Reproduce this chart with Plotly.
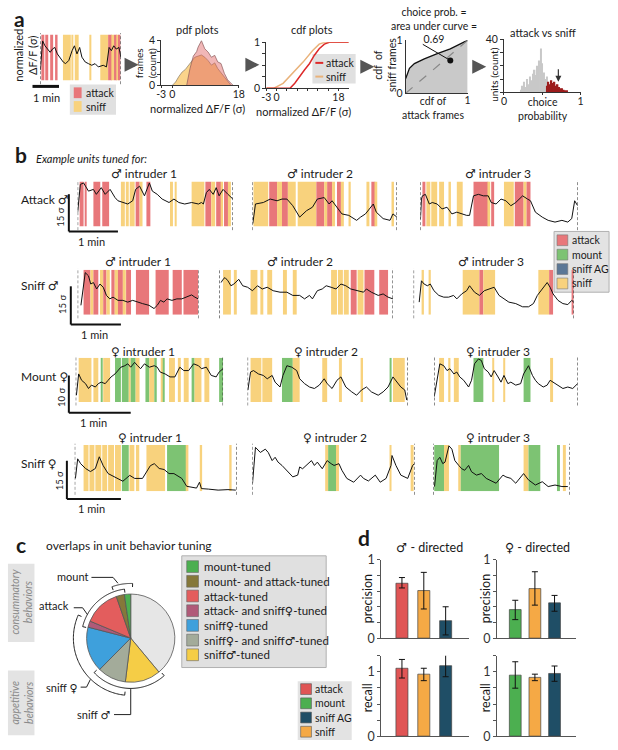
import numpy as np
import plotly.graph_objects as go

W, H = 618, 750
FONT = "Lato, 'DejaVu Sans', sans-serif"

# ======================= DATA =======================
# --- panel a: example trace (time in 1.2 s bins, value in sigma) ---
EX_T = [0, 2.3, 4.7, 7.3, 10, 12.3, 14.7, 17.3, 20, 23.3, 25.7, 29, 32.3, 34.7, 37.3, 40, 42.3, 45.7,
        49, 52.3, 55.7, 59, 64, 67.3, 70, 72.3, 74.7, 77.3, 80, 82]
EX_Y = [3.2, 12.2, 10.7, 9.7, 8.7, 9.7, 10.2, 8.2, 7.2, 5.7, 5.2, 6.2, 9.2, 10.7, 8.2, 10.2, 7.2, 5.7,
        5.2, 4.7, 5.2, 4.2, 4.7, 4.2, 10.2, 9.2, 10.7, 9.7, 10.2, 7.2]
EX_BANDS = [(1, 4, 'a'), (5, 8, 'a'), (10, 13, 'a'), (15, 17.5, 'a'), (23, 31, 's'), (32, 33.5, 's'),
            (35, 39, 's'), (50, 51.5, 's'), (61, 69, 's'), (69, 73, 'a'), (73, 75, 's'), (75, 78, 'a'),
            (78, 79, 's'), (79, 81.5, 'a')]

# pdf (frames count) vs normalized dF/F
PDF_SNIFF_X = [0.0, 0.9, 1.8, 2.7, 3.5, 4.4, 5.2, 6.1, 7.0, 7.9, 8.8, 9.7, 10.6, 11.5, 12.3, 13.2, 14.1, 15.0, 15.9]
PDF_SNIFF_Y = [0.0, 0.3, 0.8, 1.2, 1.4, 1.8, 2.2, 2.5, 2.6, 2.7, 2.5, 2.2, 1.8, 2.0, 1.5, 1.1, 0.8, 0.3, 0.0]
PDF_ATT_X = [3.9, 4.8, 5.7, 6.6, 7.0, 7.9, 8.8, 9.7, 10.6, 11.5, 12.3, 13.2, 14.1, 15.0, 16.3, 16.5]
PDF_ATT_Y = [0.0, 1.5, 2.6, 3.0, 3.4, 3.97, 3.25, 2.96, 2.5, 2.67, 2.09, 1.94, 1.07, 0.49, 0.06, 0.0]

# cdf curves
CDF_SNIFF_X = [-3, -0.9, 1.9, 4.8, 7.7, 10.5, 12.4, 13.9, 21]
CDF_SNIFF_Y = [0, 0, 0.11, 0.33, 0.57, 0.82, 0.96, 1.0, 1.0]
CDF_ATT_X = [-3, 3.9, 5.3, 6.7, 8.1, 9.6, 11.0, 12.4, 13.9, 15.3, 21]
CDF_ATT_Y = [0, 0, 0.11, 0.26, 0.40, 0.54, 0.72, 0.86, 0.96, 1.0, 1.0]

# ROC-like curve (cdf of attack frames vs cdf of sniff frames)
AUC_X = [0, 0.06, 0.14, 0.30, 0.51, 0.72, 0.98, 1.0]
AUC_Y = [0.28, 0.47, 0.56, 0.65, 0.75, 0.84, 0.99, 1.0]
AUC_POINT = (0.72, 0.62)

# choice probability histograms
HIST_GRAY_X = [0.22, 0.24, 0.26, 0.28, 0.30, 0.32, 0.34, 0.36, 0.38, 0.40, 0.42, 0.44, 0.46, 0.48,
               0.50, 0.52, 0.54, 0.56, 0.58, 0.60, 0.62]
HIST_GRAY_N = [2, 5, 8, 4, 10, 6, 12, 9, 14, 17, 13, 20, 24, 33, 22, 15, 10, 12, 6, 4, 2]
HIST_RED_X = [0.56, 0.58, 0.60, 0.62, 0.64, 0.66, 0.68, 0.70, 0.72, 0.74, 0.76, 0.78, 0.80, 0.82]
HIST_RED_N = [5, 8, 6, 9, 7, 8, 5, 6, 4, 3, 3, 2, 1, 1]

# --- panel b: example units (t in 1.2 s bins, value in sigma) ---
R1S1_T = [0, 2.7, 6, 11, 16, 19, 24, 28, 33, 38, 41, 46, 51, 56, 59, 63, 68, 73, 76, 81, 86, 93, 98, 103,
          109, 116, 123, 126, 128, 131, 134, 138, 141, 144, 148, 153, 158]
R1S1_Y = [5.8, 17.0, 17.6, 14.3, 15.0, 13.0, 15.7, 13.0, 15.0, 11.7, 10.4, 9.7, 9.1, 10.4, 15.0, 16.3, 12.4,
          17.6, 14.3, 13.0, 11.1, 9.7, 11.1, 9.7, 9.1, 9.7, 9.1, 9.7, 9.1, 13.7, 15.0, 13.0, 15.7, 12.4, 15.0,
          13.0, 11.1]
R1S1_B = [(2, 6, 'a'), (7.5, 9, 'a'), (16, 23, 'a'), (25, 32, 'a'), (44, 48, 's'), (49, 52, 's'), (53, 58, 's'),
          (59, 63, 'a'), (64, 66, 's'), (70, 74, 'a'), (94, 97, 's'), (99, 100.5, 's'), (116, 129, 's'),
          (130, 136, 'a'), (136, 140, 's'), (141, 146, 'a'), (146, 148, 's'), (149, 153, 'a'), (153, 156, 's')]

R1S2_T = [0.3, 3, 11, 18, 25, 30, 35, 41, 48, 55, 61, 66, 73, 78, 81, 85, 91, 98, 103, 106, 110, 115, 123,
          126, 133, 140, 143, 147]
R1S2_Y = [1.2, 9.1, 9.7, 11.1, 10.4, 11.1, 11.1, 8.4, 3.8, 6.4, 7.8, 11.1, 11.7, 9.1, 10.4, 8.4, 5.1, 4.5,
          3.2, 2.5, 3.8, 5.1, 9.1, 5.8, 3.2, 2.5, 5.1, 3.8]
R1S2_B = [(1, 16, 's'), (17, 25, 'a'), (25, 30, 's'), (30, 36, 'a'), (36, 44, 's'), (46, 65, 's'), (65, 73, 'a'),
          (73, 76, 's'), (76, 81, 'a'), (81, 84, 's'), (86, 90, 'a'), (90, 93, 's'), (98, 100, 's'),
          (116, 119, 's'), (121, 125, 'a'), (125, 127, 's'), (142, 144, 's')]

R1S3_T = [0, 1, 2, 5, 9, 12, 17, 22, 27, 32, 37, 42, 47, 50, 54, 59, 64, 69, 72, 77, 82, 87, 92, 97, 104,
          109, 112, 117, 124, 130, 137, 144, 150, 154, 157, 160]
R1S3_Y = [3.0, 11.1, 12.4, 13.0, 9.1, 9.7, 9.1, 7.1, 7.8, 5.1, 5.8, 5.1, 4.5, 4.5, 12.4, 13.0, 12.4, 12.4,
          9.7, 9.1, 11.1, 10.4, 8.4, 9.7, 12.4, 11.1, 10.4, 5.8, 3.8, 2.5, 1.8, 2.5, 1.8, 3.2, 10.4, 8.4]
R1S3_B = [(2, 5, 'a'), (6, 10, 's'), (11, 17, 's'), (19, 24, 's'), (29, 31, 's'), (37, 43, 's'), (54, 69, 'a'),
          (69, 71, 's'), (72, 75, 'a'), (85, 95, 's'), (96, 105, 'a'), (105, 108, 's'), (108, 112, 'a')]

R2S1_T = [3.3, 7.7, 11, 13.3, 16, 19.3, 22.7, 26, 29.3, 32.7, 36, 41, 46, 51, 56, 61, 66, 72.7, 77.7, 81,
          84.3, 87.7, 91, 96, 101, 106, 111, 116, 119.3, 122.7]
R2S1_Y = [3.8, 17.0, 15.7, 12.4, 13.0, 10.4, 12.4, 11.1, 7.8, 6.4, 7.1, 5.8, 5.8, 5.1, 5.8, 5.1, 4.5, 3.8,
          2.5, 3.8, 5.8, 5.1, 6.4, 5.8, 6.4, 6.4, 7.1, 8.0, 7.1, 6.4]
R2S1_B = [(6, 13, 'a'), (13, 16, 's'), (16, 21, 'a'), (22.7, 26, 's'), (26, 29.3, 'a'), (29.3, 32.7, 's'),
          (34.3, 37.7, 'a'), (37.7, 41, 's'), (41, 46, 'a'), (46, 49, 's'), (49.3, 54.3, 'a'),
          (59.3, 72.7, 'a'), (79.3, 92.7, 'a'), (96.7, 106, 'a'), (107.7, 122.7, 'a')]

R2S2_T = [2, 4, 6, 9, 12, 15, 20, 24, 29, 34, 39, 44, 49, 55, 62, 69, 75, 82, 87, 92, 95, 100, 105, 109,
          114, 119, 124, 129, 134, 140, 147, 150, 155, 162, 167, 172, 177]
R2S2_Y = [13.0, 14.3, 15.0, 13.7, 11.7, 12.4, 14.3, 11.7, 11.1, 9.7, 11.7, 10.4, 11.1, 9.7, 9.1, 9.1, 7.8,
          7.8, 6.4, 7.8, 6.4, 9.7, 10.4, 11.7, 11.1, 10.4, 12.4, 11.7, 10.4, 9.7, 9.1, 10.4, 9.1, 7.8, 8.4,
          7.1, 6.4]
R2S2_B = [(4, 12, 's'), (15, 18, 's'), (32, 39, 's'), (42, 45, 's'), (49, 54, 's'), (65, 69, 's'),
          (75, 79, 's'), (114, 120, 's'), (121, 126, 's'), (127, 132, 's'), (134, 140, 'a'), (141, 147, 's'),
          (148, 158, 'a'), (163, 172, 'a')]

R2S3_T = [5.7, 8, 10.7, 14, 17, 20.7, 25.7, 30.7, 35.7, 40.7, 44, 49, 54, 57, 62, 67, 72, 77, 82, 87, 92,
          97, 104, 111, 117, 122, 126, 131, 136, 139, 142, 147, 152, 157, 161, 163]
R2S3_Y = [5.1, 13.7, 12.4, 11.7, 12.4, 9.7, 7.8, 7.1, 7.1, 7.8, 6.4, 8.4, 9.7, 11.7, 9.1, 7.8, 9.7, 10.4,
          11.1, 7.8, 6.4, 5.1, 4.5, 3.2, 3.2, 4.5, 7.8, 10.4, 13.0, 11.1, 8.4, 5.8, 4.5, 4.1, 5.8, 5.1]
R2S3_B = [(9, 10.5, 's'), (16, 17.5, 's'), (50, 67, 's'), (67, 71, 'a'), (71, 83, 's'), (127, 138, 's'),
          (138, 142, 'a'), (161.5, 163, 'a')]

R3S1_T = [0.7, 3, 6, 10, 13, 16, 20, 23, 26, 30, 33, 36, 40, 43, 46, 50, 53, 56, 60, 63, 66, 70, 75, 80,
          83, 86, 91, 96, 101, 106, 110, 115, 120, 125, 128, 133, 138, 143, 146, 150]
R3S1_Y = [1.8, 7.5, 5.8, 4.9, 3.6, 4.5, 4.0, 4.9, 5.3, 4.9, 5.8, 6.7, 7.5, 8.4, 9.3, 9.7, 10.2, 9.3, 10.6,
          9.7, 8.9, 10.2, 9.3, 9.7, 9.3, 8.0, 7.5, 6.7, 6.7, 9.3, 8.4, 8.4, 10.2, 9.7, 8.9, 9.3, 7.1, 6.7,
          8.0, 8.9]
R3S1_B = [(3, 16, 's'), (18, 23, 's'), (26, 27.5, 'm'), (28, 35, 's'), (40, 46, 'm'), (47, 54, 'm'),
          (54, 56, 's'), (56, 61, 'm'), (61, 65, 's'), (71, 75, 'm'), (75, 80, 's'), (80, 82.5, 'm'),
          (87, 89, 's'), (89, 90.5, 'm'), (95, 101, 's'), (104, 107, 's'), (110, 115, 's'), (118, 121, 'm'),
          (121, 128, 's'), (131, 136, 's'), (146, 150, 'm')]

R3S2_T = [0.3, 3, 6, 11, 16, 20, 25, 28, 33, 36, 40, 45, 50, 53, 58, 63, 68, 73, 78, 81, 86, 91, 95, 100,
          106, 111, 116, 121, 126, 133, 138, 143, 148, 151, 156, 160, 162]
R3S2_Y = [3.2, 8.0, 8.4, 7.5, 7.1, 6.2, 7.1, 5.3, 4.0, 7.1, 9.7, 9.3, 8.4, 6.2, 4.9, 4.0, 3.6, 4.5, 6.2,
          4.9, 3.6, 5.8, 6.7, 4.0, 2.7, 1.8, 3.2, 4.0, 2.7, 1.8, 2.7, 4.0, 6.7, 5.8, 4.0, 3.2, 0.5]
R3S2_B = [(3, 14, 's'), (15, 25, 's'), (35, 46, 'm'), (46, 53, 's'), (76, 81, 's'), (93, 96, 's'),
          (116, 117.5, 's'), (145, 146.5, 'm'), (148, 160, 's')]

R3S3_T = [0, 3, 5.7, 9.7, 13, 16, 20, 23, 26, 30, 35, 38, 41, 45, 48, 51, 55, 58, 61, 65, 68, 71, 75, 78,
          83, 88, 91, 96, 100, 103, 106, 111, 115, 118, 121, 126, 131, 136, 141, 146]
R3S3_Y = [1.4, 5.8, 10.2, 9.7, 8.4, 8.9, 7.5, 8.0, 6.7, 5.8, 4.0, 5.8, 10.2, 11.5, 11.1, 8.9, 8.0, 6.7, 8.4,
          6.7, 5.3, 7.1, 4.9, 5.3, 4.5, 4.9, 7.5, 9.7, 7.1, 5.8, 4.9, 4.0, 4.5, 5.8, 5.3, 4.5, 3.6, 4.0,
          3.6, 4.9]
R3S3_B = [(5, 10, 's'), (15, 16.5, 's'), (20, 25, 's'), (40, 50, 'm'), (60, 61, 's'), (71, 72, 's'),
          (91, 98, 'm'), (118, 121, 's')]

R4S1_T = [0.7, 3, 6, 11, 16, 21, 25, 29, 34, 39, 44, 49, 56, 61, 69, 77, 81, 86, 91, 96, 101, 104, 109,
          114, 119, 124, 127, 129, 136, 146, 156, 164]
R4S1_Y = [5.0, 12.7, 10.8, 8.9, 7.7, 8.9, 13.5, 10.0, 6.9, 5.8, 5.0, 3.9, 6.2, 5.0, 5.0, 10.0, 10.8, 8.9,
          8.5, 6.9, 6.9, 6.2, 5.0, 1.9, 1.5, 1.2, 3.5, 1.0, 0.8, 0.4, 0.6, 0.4]
R4S1_B = [(9, 14, 's'), (15, 20, 's'), (21, 27, 's'), (28, 33, 's'), (34, 40, 's'), (41, 47, 's'),
          (48, 55, 'm'), (55.7, 60.7, 's'), (62.3, 65.7, 's'), (73, 92, 's'), (94, 114, 'm'),
          (114, 115.7, 's'), (127.3, 129.7, 's'), (157.3, 159.7, 's')]

R4S2_T = [0, 3, 8, 13, 16, 20, 23, 26, 30, 33, 38, 41, 46, 48, 51, 55, 60, 63, 66, 71, 76, 80, 83, 88, 91,
          96, 103, 110, 113, 118, 125, 130, 136, 141, 142, 146, 151, 158, 163, 165]
R4S2_Y = [3.0, 17.2, 15.2, 16.5, 15.2, 12.0, 13.3, 11.4, 10.1, 8.8, 6.9, 5.6, 6.3, 9.5, 8.8, 10.1, 12.0,
          10.1, 11.4, 8.8, 12.0, 10.8, 10.1, 10.8, 8.2, 5.0, 3.5, 6.3, 5.0, 4.0, 6.3, 3.5, 5.0, 10.1, 14.0,
          10.1, 6.3, 5.0, 10.1, 10.8]
R4S2_B = [(74, 77, 's'), (77, 85, 'm'), (85, 88, 's'), (140, 141.5, 's'), (161, 164, 's')]

R4S3_T = [1.3, 4, 6.7, 9.7, 12, 16, 19, 22, 26, 29, 32, 36, 39, 44, 49, 54, 64, 71, 74, 79, 84, 92, 97,
          104, 111, 117, 124, 131, 137]
R4S3_Y = [1.8, 12.0, 13.3, 10.8, 11.4, 17.8, 16.5, 12.0, 10.1, 8.8, 8.2, 10.1, 7.6, 6.3, 6.9, 5.0, 3.1,
          6.3, 5.6, 5.0, 3.1, 6.9, 4.4, 2.4, 3.7, 1.8, 2.4, 1.8, 1.8]
R4S3_B = [(1, 11, 'm'), (11, 16, 's'), (26, 28, 's'), (28, 67, 'm'), (92, 97, 's'), (97, 109, 'm'),
          (126, 129, 'm'), (132, 135, 's')]

# --- panel c: overlaps in unit behavior tuning (percent of units) ---
PIE_LABELS = ['untuned', 'sniff♂-tuned', 'sniff♀- and sniff♂-tuned', 'sniff♀-tuned',
              'attack- and sniff♀-tuned', 'attack-tuned', 'mount- and attack-tuned', 'mount-tuned']
PIE_VALUES = [39.0, 13.0, 10.5, 16.6, 2.3, 13.4, 3.0, 2.3]

# --- panel d: precision / recall ---
D_MALE_CATS = ['attack', 'sniff', 'sniff AG']
D_FEM_CATS = ['mount', 'sniff', 'sniff AG']
PREC_MALE = [0.70, 0.607, 0.223]
PREC_MALE_LO = [0.64, 0.372, 0.041]
PREC_MALE_HI = [0.773, 0.839, 0.40]
PREC_FEM = [0.364, 0.632, 0.45]
PREC_FEM_LO = [0.236, 0.421, 0.343]
PREC_FEM_HI = [0.483, 0.847, 0.545]
REC_MALE = [1.056, 0.964, 1.096]
REC_MALE_LO = [0.904, 0.863, 0.924]
REC_MALE_HI = [1.193, 1.056, 1.269]
REC_FEM = [0.949, 0.914, 0.975]
REC_FEM_LO = [0.746, 0.863, 0.853]
REC_FEM_HI = [1.157, 0.964, 1.091]

# ======================= STYLE =======================
BAND_COL = {'a': '#e8777a', 's': '#f8d27d', 'm': '#7dc373'}
PIE_COLS = ['#e6e6e6', '#f5cd46', '#a3ab9a', '#3ea0dc', '#b05a78', '#e35d5d', '#85783a', '#4caf50']
D_COL = {'attack': '#e05555', 'mount': '#4caf50', 'sniff AG': '#1f4e66', 'sniff': '#f5a945'}

fig = go.Figure()
layout = {}
shapes = []
annots = []
n_ax = [0]

AX = dict(visible=True, showline=True, linecolor='#333', linewidth=1, ticks='outside', ticklen=3,
          tickcolor='#333', tickwidth=1, tickfont=dict(size=10.5, color='#222', family=FONT))
AXX = dict(AX, ticklen=2, ticklabelstandoff=-3)


def axes(x0, x1, y0, y1, xr, yr, xkw=None, ykw=None):
    n_ax[0] += 1
    k = n_ax[0]
    s = '' if k == 1 else str(k)
    xa = dict(domain=[x0 / W, x1 / W], range=xr, anchor='y' + s, visible=False, showgrid=False,
              zeroline=False, fixedrange=True)
    ya = dict(domain=[1 - y1 / H, 1 - y0 / H], range=yr, anchor='x' + s, visible=False, showgrid=False,
              zeroline=False, fixedrange=True)
    if xkw:
        xa.update(xkw)
    if ykw:
        ya.update(ykw)
    layout['xaxis' + s] = xa
    layout['yaxis' + s] = ya
    return 'x' + s, 'y' + s


def txt(x, y, s, size=11, xa='center', ya='middle', angle=0, color='#1a1a1a', italic=False, bold=False):
    t = s
    if bold:
        t = '<b>' + t + '</b>'
    if italic:
        t = '<i>' + t + '</i>'
    annots.append(dict(x=x / W, y=1 - y / H, xref='paper', yref='paper', text=t, showarrow=False,
                       xanchor=xa, yanchor=ya, textangle=angle, borderpad=0,
                       font=dict(size=size, color=color, family=FONT)))


def pline(x0, y0, x1, y1, color='#222', width=1, dash='solid'):
    shapes.append(dict(type='line', xref='paper', yref='paper', x0=x0 / W, y0=1 - y0 / H, x1=x1 / W,
                       y1=1 - y1 / H, line=dict(color=color, width=width, dash=dash)))


def prect(x0, y0, x1, y1, fill, lc='rgba(0,0,0,0)', lw=0):
    shapes.append(dict(type='rect', xref='paper', yref='paper', x0=x0 / W, y0=1 - y1 / H, x1=x1 / W,
                       y1=1 - y0 / H, fillcolor=fill, line=dict(color=lc, width=lw), layer='below'))


def arrow(xt, yt, xh, yh):
    annots.append(dict(x=xh / W, y=1 - yh / H, xref='paper', yref='paper', ax=xt - xh, ay=yt - yh,
                       text='', showarrow=True, arrowhead=2, arrowsize=0.8, arrowwidth=3.5,
                       arrowcolor='#555'))


def lines(x, y, xa, ya, **kw):
    return go.Scatter(x=x, y=y, mode='lines', xaxis=xa, yaxis=ya, hoverinfo='skip', showlegend=False, **kw)


def segment(x0, x1, y0, y1, width, yr, T, Y, bands):
    xa, ya = axes(x0, x1, y0, y1, [0, width], [0, yr])
    fig.add_trace(go.Bar(x=[(b[0] + b[1]) / 2 for b in bands], y=[yr] * len(bands), base=0,
                         width=[b[1] - b[0] for b in bands],
                         marker=dict(color=[BAND_COL[b[2]] for b in bands], line=dict(width=0)),
                         xaxis=xa, yaxis=ya, hoverinfo='skip', showlegend=False))
    fig.add_trace(lines(T, Y, xa, ya, line=dict(color='#111', width=1)))
    for xv in (0, width):
        shapes.append(dict(type='line', xref=xa, yref=ya + ' domain', x0=xv, x1=xv, y0=-0.08, y1=1.03,
                           line=dict(color='#333', width=1, dash='3px,2px')))


# ======================= PANEL A =======================
txt(15, 11, 'a', size=21, bold=True)
segment(36, 118, 27, 74, 82, 14.2, EX_T, EX_Y, EX_BANDS)
txt(20, 48, 'normalized<br>ΔF/F (σ)', angle=-90, size=11)
pline(28, 80, 55, 80, color='#111', width=3)
txt(42, 91, '1 min')
prect(66, 78, 113, 109, '#e0e0e0')
prect(70, 81, 78, 92, BAND_COL['a'])
prect(70, 95, 78, 106, BAND_COL['s'])
txt(81, 87, 'attack', xa='left', size=10.5)
txt(81, 101, 'sniff', xa='left', size=10.5)

arrow(122, 58, 136, 58)
arrow(245, 58, 259, 58)
arrow(362, 60, 376, 60)
arrow(476, 60, 490, 60)

# pdf plot
xa, ya = axes(159, 238, 33, 79, [-3, 18], [0, 4],
              xkw=dict(AXX, tickvals=[-3, 0, 18], ticktext=['-3', '0', '18']),
              ykw=dict(AX, tickvals=[0, 1, 2, 3, 4], ticktext=['0', '', '', '', '4']))
fig.add_trace(lines(PDF_SNIFF_X, PDF_SNIFF_Y, xa, ya, fill='tozeroy', fillcolor='rgba(248,198,100,0.75)',
                    line=dict(color='#8a7a60', width=0.7)))
fig.add_trace(lines(PDF_ATT_X, PDF_ATT_Y, xa, ya, fill='tozeroy', fillcolor='rgba(225,95,95,0.45)',
                    line=dict(color='#8a5a5a', width=0.7)))
txt(196, 22, 'pdf plots')
txt(143, 56, 'frames<br>(count)', angle=-90, size=10)
txt(196, 103, 'normalized ΔF/F (σ)')

# cdf plot
xa, ya = axes(266, 350, 35, 82, [-3, 21], [0, 1],
              xkw=dict(AXX, tickvals=[-3, 0, 3, 6, 9, 12, 15, 18], ticktext=['-3', '0', '', '', '', '', '', '18']),
              ykw=dict(AX, tickvals=[0, 0.25, 0.5, 0.75, 1], ticktext=['0', '', '', '', '1']))
fig.add_trace(lines(CDF_SNIFF_X, CDF_SNIFF_Y, xa, ya, line=dict(color='#e9b27a', width=1.5)))
fig.add_trace(lines(CDF_ATT_X, CDF_ATT_Y, xa, ya, line=dict(color='#dd2a2a', width=1.5)))
txt(313, 22, 'cdf plots')
txt(304, 106, 'normalized ΔF/F (σ)')
prect(313, 47, 357, 77, '#e0e0e0')
pline(316, 56, 324, 56, color='#dd2a2a', width=2)
pline(316, 70, 324, 70, color='#e9b27a', width=2)
txt(326, 56, 'attack', xa='left', size=10.5)
txt(326, 70, 'sniff', xa='left', size=10.5)

# AUC plot
xa, ya = axes(408, 471, 33, 87, [0, 1], [0, 1],
              xkw=dict(AXX, ticks='', tickvals=[1], ticktext=['1']),
              ykw=dict(AX, ticks='', tickvals=[0, 1], ticktext=['0', '1']))
fig.add_trace(lines(AUC_X, AUC_Y, xa, ya, fill='tozeroy', fillcolor='#c9c9c9', line=dict(color='#111', width=1.3)))
fig.add_trace(lines([0, 1], [0, 1], xa, ya, line=dict(color='#888', width=1.2, dash='dash')))
fig.add_trace(go.Scatter(x=[AUC_POINT[0]], y=[AUC_POINT[1]], mode='markers', marker=dict(color='#111', size=6),
                         xaxis=xa, yaxis=ya, hoverinfo='skip', showlegend=False))
annots.append(dict(x=AUC_POINT[0], y=AUC_POINT[1], xref=xa, yref=ya, ax=-29, ay=-17, text='',
                   showarrow=True, arrowhead=0, arrowwidth=1, arrowcolor='#111'))
txt(437, 18, 'choice prob. =<br>area under curve =<br>0.69', size=10.5)
txt(387, 58, 'cdf  of<br>sniff frames', angle=-90, size=10.5)
txt(436, 102, 'cdf of<br>attack frames', size=10.5)

# choice probability histogram
xa, ya = axes(508, 586, 32, 86, [0, 1], [0, 40],
              xkw=dict(AXX, tickvals=[0, 0.5, 1], ticktext=['0', '', '1']),
              ykw=dict(AX, tickvals=[0, 10, 20, 30, 40], ticktext=['', '', '', '', '40']))
fig.add_trace(go.Bar(x=HIST_GRAY_X, y=HIST_GRAY_N, width=0.02, marker=dict(color='#c8c8c8', line=dict(width=0)),
                     xaxis=xa, yaxis=ya, hoverinfo='skip', showlegend=False))
fig.add_trace(go.Bar(x=HIST_RED_X, y=HIST_RED_N, width=0.02, marker=dict(color='#9c1c1c', line=dict(width=0)),
                     xaxis=xa, yaxis=ya, hoverinfo='skip', showlegend=False))
annots.append(dict(x=0.71, y=8, xref=xa, yref=ya, ax=0, ay=-14, text='', showarrow=True, arrowhead=2,
                   arrowsize=1, arrowwidth=1.2, arrowcolor='#333'))
txt(548, 25, 'attack vs sniff')
txt(497, 68, 'units (count)', angle=-90, size=10)
txt(548, 103, 'choice<br>probability', size=10.5)

# ======================= PANEL B =======================
txt(16, 150, 'b', size=21, bold=True)
txt(31, 154, 'Example units tuned for:', xa='left', italic=True)

ROWS = [
    (177, 223, 18.2, [(74, 232, 158, R1S1_T, R1S1_Y, R1S1_B), (252, 399, 147, R1S2_T, R1S2_Y, R1S2_B),
                      (423, 583, 160, R1S3_T, R1S3_Y, R1S3_B)]),
    (267, 313, 18.2, [(74, 197, 123, R2S1_T, R2S1_Y, R2S1_B), (218, 395, 177, R2S2_T, R2S2_Y, R2S2_B),
                      (416, 579, 163, R2S3_T, R2S3_Y, R2S3_B)]),
    (357, 402, 11.8, [(72, 222, 150, R3S1_T, R3S1_Y, R3S1_B), (247, 410, 163, R3S2_T, R3S2_Y, R3S2_B),
                      (437, 583, 146, R3S3_T, R3S3_Y, R3S3_B)]),
    (446, 493, 18.1, [(71, 236, 165, R4S1_T, R4S1_Y, R4S1_B), (252, 417, 165, R4S2_T, R4S2_Y, R4S2_B),
                      (436, 575, 139, R4S3_T, R4S3_Y, R4S3_B)]),
]
for y0, y1, yr, segs in ROWS:
    for (x0, x1, w, T, Y, B) in segs:
        segment(x0, x1, y0, y1, w, yr, T, Y, B)

M, F = '♂', '♀'
TITLES = [(169, [(142, M), (321, M), (502, M)]), (259, [(135, M), (300, M), (495, M)]),
          (351, [(140, F), (327, F), (502, F)]), (438, [(148, F), (336, F), (502, F)])]
for yy, items in TITLES:
    for i, (xx, sym) in enumerate(items):
        txt(xx, yy, sym + ' intruder ' + str(i + 1), size=12)

txt(15, 195, 'Attack ' + M, size=12, xa='left')
txt(15, 283, 'Sniff ' + M, size=12, xa='left')
txt(15, 376, 'Mount ' + F, size=12, xa='left')
txt(15, 465, 'Sniff ' + F, size=12, xa='left')

# scale bars
for (xv, ytop, ybot, xend, lab, ylab, xmin) in [(65, 190, 228, 115, '15 σ', 213, 88), (67, 284, 323, 118, '15 σ', 302, 91),
                                                (65, 375, 413, 128, '10 σ', 397, 90), (63, 462, 501, 118, '15 σ', 483, 88)]:
    pline(xv, ytop, xv, ybot, color='#111', width=2)
    pline(xv, ybot, xend, ybot, color='#111', width=2)
    txt(xv - 8, ylab, lab, size=9.5, angle=-90)
    txt(xmin, ybot + 10, '1 min', size=11)

# legend b
prect(559, 228, 615, 290, '#e3e3e3', lc='#b0b0b0', lw=1)
for i, (lab, col) in enumerate([('attack', BAND_COL['a']), ('mount', BAND_COL['m']), ('sniff AG', '#5b7796'),
                                ('sniff', BAND_COL['s'])]):
    yc = 237 + i * 14.7
    prect(562, yc - 5.5, 573, yc + 5.5, col, lc='#777', lw=0.6)
    txt(576, yc, lab, xa='left', size=10.5)

# ======================= PANEL C =======================
txt(16, 547, 'c', size=21, bold=True)
txt(41, 548, 'overlaps in unit behavior tuning', xa='left', size=12)
prect(3, 567, 30, 647, '#e3e3e3')
prect(3, 676, 30, 742, '#e3e3e3')
txt(17, 606, 'consummatory<br>behaviors', angle=-90, italic=True, color='#8a8a8a', size=10.5)
txt(17, 709, 'appetitive<br>behaviors', angle=-90, italic=True, color='#8a8a8a', size=10.5)

fig.add_trace(go.Pie(values=PIE_VALUES, labels=PIE_LABELS, sort=False, direction='clockwise', rotation=0,
                     marker=dict(colors=PIE_COLS, line=dict(color='#555', width=0.8)), textinfo='none',
                     hoverinfo='skip', showlegend=False,
                     domain=dict(x=[83 / W, 173 / W], y=[1 - 688 / H, 1 - 598 / H])))
layout['polar'] = dict(domain=dict(x=[65 / W, 191 / W], y=[1 - 706 / H, 1 - 580 / H]),
                       radialaxis=dict(visible=False, range=[0, 1.4]),
                       angularaxis=dict(visible=False, rotation=90, direction='clockwise'),
                       bgcolor='rgba(0,0,0,0)')
cum = np.concatenate([[0], np.cumsum(PIE_VALUES)]) / sum(PIE_VALUES) * 360.0


def bracket(a0, a1, r, tick=0.08):
    th = list(np.linspace(a0, a1, 80))
    fig.add_trace(go.Scatterpolar(r=[r - tick] + [r] * len(th) + [r - tick], theta=[a0] + th + [a1],
                                  mode='lines', line=dict(color='#222', width=1), hoverinfo='skip',
                                  showlegend=False))


bracket(cum[6] - 1, cum[8] + 2, 1.24)   # mount
bracket(cum[4] - 1, cum[7] + 1, 1.12)   # attack
bracket(cum[2] - 1, cum[5] + 1, 1.30)   # sniff female
bracket(cum[1] - 2, cum[3] + 2, 1.14)   # sniff male

txt(86, 580, 'mount', xa='right', size=11)
pline(88, 581, 110, 581)
pline(110, 581, 115, 587)
txt(66, 610, 'attack', xa='right', size=11)
pline(70, 612, 79, 612)
pline(79, 612, 84, 619)
txt(75, 693, 'sniff ' + F, xa='right', size=11)
pline(77, 693, 83, 693)
pline(83, 693, 87, 685)
txt(108, 721, 'sniff ' + M, xa='right', size=11)
pline(111, 721, 128, 721)
pline(128, 721, 128, 695)

# legend c
prect(180, 559, 327, 673, '#e0e0e0', lc='#b0b0b0', lw=1)
LEG_C = [(7, 'mount-tuned'), (6, 'mount- and attack-tuned'), (5, 'attack-tuned'),
         (4, 'attack- and sniff' + F + '-tuned'), (3, 'sniff' + F + '-tuned'),
         (2, 'sniff' + F + '- and sniff' + M + '-tuned'), (1, 'sniff' + M + '-tuned')]
for i, (idx, lab) in enumerate(LEG_C):
    yc = 570 + 15 * i
    prect(185, yc - 6, 197, yc + 6, PIE_COLS[idx], lc='#666', lw=0.6)
    txt(202, yc, lab, xa='left', size=11.5)

# ======================= PANEL D =======================
txt(366, 540, 'd', size=21, bold=True)
txt(432, 550, M + ' - directed', size=12.5)
txt(542, 550, F + ' - directed', size=12.5)


def dplot(x0, x1, y0, y1, xr, yr, tv, tt, cats, vals, lo, hi, bw):
    xa, ya = axes(x0, x1, y0, y1, xr, yr,
                  xkw=dict(visible=True, showline=True, linecolor='#555', linewidth=1, showticklabels=False,
                           ticks=''),
                  ykw=dict(AX, linecolor='#555', tickcolor='#555', tickvals=tv, ticktext=tt,
                           tickfont=dict(size=12.5, color='#333', family=FONT)))
    fig.add_trace(go.Bar(x=list(range(len(cats))), y=vals, width=bw,
                         marker=dict(color=[D_COL[c] for c in cats], line=dict(color='#444', width=0.7)),
                         error_y=dict(type='data', symmetric=False, array=[h - v for h, v in zip(hi, vals)],
                                      arrayminus=[v - l for v, l in zip(vals, lo)], color='#111',
                                      thickness=1, width=3),
                         xaxis=xa, yaxis=ya, hoverinfo='skip', showlegend=False))


PT = [0, 0.2, 0.4, 0.6, 0.8, 1]
PL = ['0', '', '', '', '', '1']
RT = [0, 0.25, 0.5, 0.75, 1, 1.25]
RL = ['0', '', '', '', '1', '']
dplot(383, 472, 563, 643, [-0.95, 3.05], [0, 1], PT, PL, D_MALE_CATS, PREC_MALE, PREC_MALE_LO, PREC_MALE_HI, 0.55)
dplot(501, 581, 563, 643, [-0.925, 3.075], [0, 1], PT, PL, D_FEM_CATS, PREC_FEM, PREC_FEM_LO, PREC_FEM_HI, 0.6)
dplot(383, 472, 661, 743, [-0.95, 3.05], [0, 1.25], RT, RL, D_MALE_CATS, REC_MALE, REC_MALE_LO, REC_MALE_HI, 0.55)
dplot(501, 581, 661, 743, [-0.925, 3.075], [0, 1.25], RT, RL, D_FEM_CATS, REC_FEM, REC_FEM_LO, REC_FEM_HI, 0.6)
txt(370, 603, 'precision', angle=-90, size=12.5)
txt(490, 603, 'precision', angle=-90, size=12.5)
txt(370, 704, 'recall', angle=-90, size=12.5)
txt(490, 704, 'recall', angle=-90, size=12.5)

# legend d
prect(298, 687, 353, 747, '#e3e3e3')
for i, lab in enumerate(['attack', 'mount', 'sniff AG', 'sniff']):
    yc = 695 + i * 14.5
    prect(301, yc - 5.5, 312, yc + 5.5, D_COL[lab], lc='#555', lw=0.6)
    txt(315, yc, lab, xa='left', size=10.5)

# ======================= LAYOUT =======================
layout.update(dict(width=W, height=H, margin=dict(l=0, r=0, t=0, b=0), paper_bgcolor='white',
                   plot_bgcolor='rgba(0,0,0,0)', showlegend=False, barmode='overlay',
                   font=dict(family=FONT, size=11, color='#1a1a1a'), shapes=shapes, annotations=annots))
fig.update_layout(**layout)
fig.write_html("out.html", config={'displayModeBar': False},
               post_script="document.body.style.margin='0';document.body.style.overflow='hidden';")
